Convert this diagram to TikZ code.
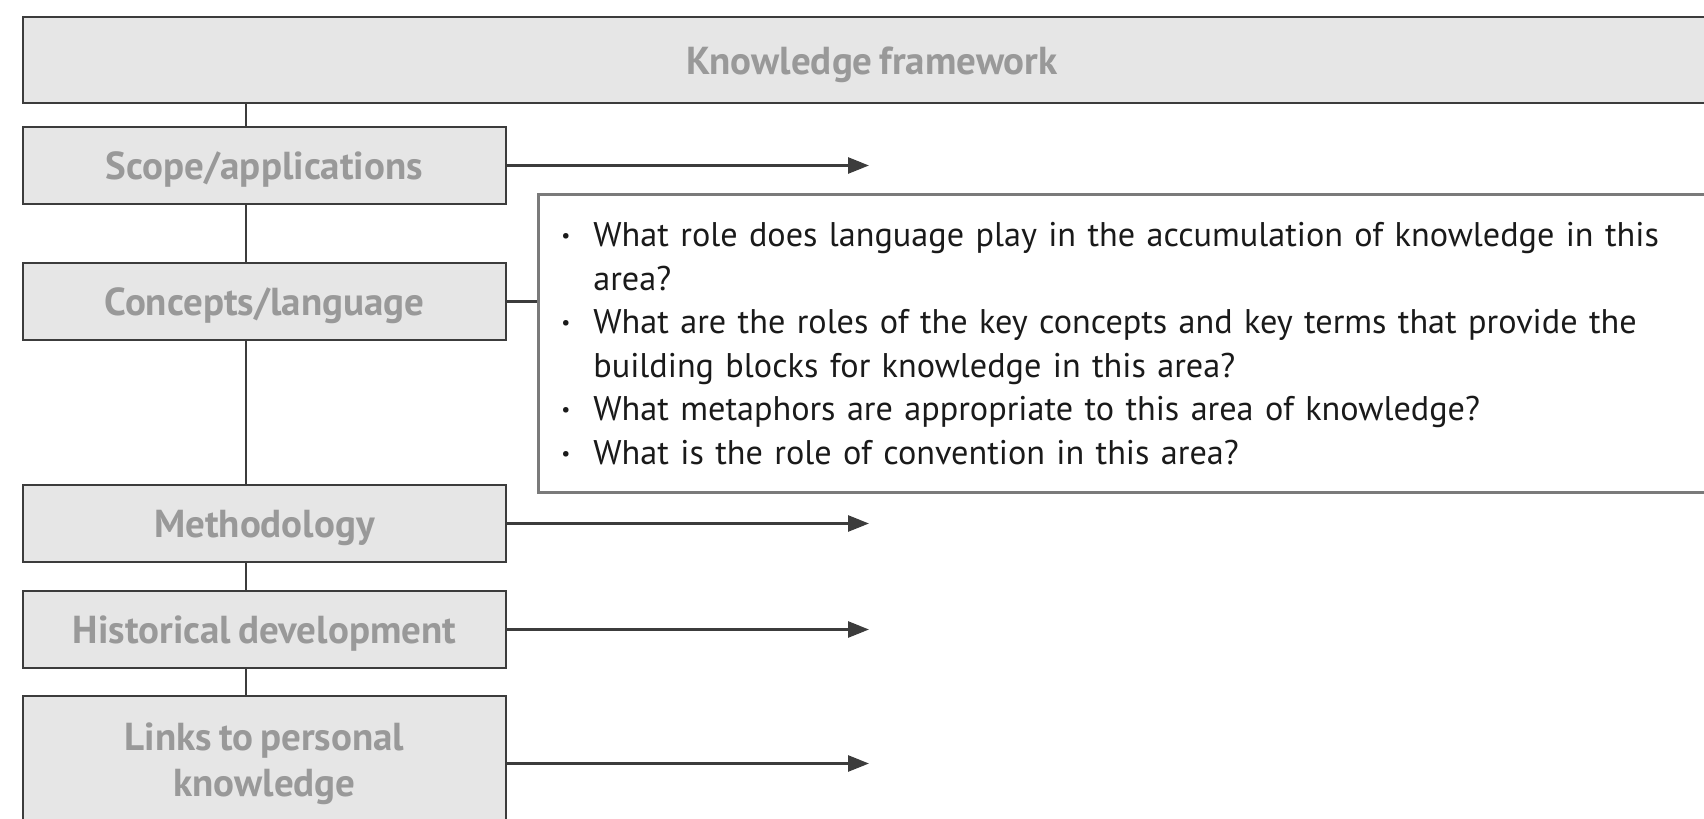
\documentclass[tikz,border=0pt]{standalone}
\usepackage{fontspec}
\setmainfont[WordSpace=0.7]{PT Sans}
\usetikzlibrary{arrows.meta}
\definecolor{boxfill}{HTML}{E6E6E6}
\definecolor{boxline}{HTML}{3C3C3C}
\definecolor{labelgrey}{HTML}{999999}
\definecolor{qline}{HTML}{7A7A7A}
\definecolor{qtext}{HTML}{1A1A1A}
% bullet and continuation indent for the question list
\newcommand{\qi}{\makebox[16pt][l]{\raisebox{2.0pt}{\fontsize{10}{10}\selectfont\textbullet}}}
\newcommand{\qc}{\hspace*{16pt}}
\begin{document}
\begin{tikzpicture}[x=0.5pt,y=-0.5pt,
  frame/.style={draw=boxline, line width=1pt, fill=boxfill, inner sep=0pt,
    anchor=north west, text=labelgrey, align=center,
    font=\fontsize{19.5}{23}\selectfont\bfseries},
  oneline/.style={text height=16pt, text depth=2pt},
  qbox/.style={draw=qline, line width=1.4pt, fill=white, anchor=north west,
    inner xsep=11.5pt, inner ysep=0pt, text width=568.5pt, minimum height=149pt,
    align=left, text=qtext, font=\fontsize{17.1}{21.75}\selectfont},
  link/.style={draw=boxline, line width=1.35pt},
  arrow/.style={link, -{Triangle[length=10.5pt,width=8pt]}}]
\useasboundingbox (0,0) rectangle (1704,819);

% column of framework boxes
\node[frame, oneline, minimum width=849pt, minimum height=43pt] (top) at (22,16) {Knowledge framework};
\node[frame, oneline, minimum width=241.5pt, minimum height=38.5pt] (scope) at (22,126) {Scope/applications};
\node[frame, oneline, minimum width=241.5pt, minimum height=38.5pt] (concepts) at (22,262) {Concepts/language};
\node[frame, oneline, minimum width=241.5pt, minimum height=38.5pt] (method) at (22,484) {Methodology};
\node[frame, oneline, minimum width=241.5pt, minimum height=38.5pt] (history) at (22,590) {Historical development};
\node[frame, minimum width=241.5pt, minimum height=67.5pt] (links) at (22,695) {Links to personal\\knowledge};

% question panel
\node[qbox, minimum width=591.5pt] (questions) at (537,193) {%
\qi What role does language play in the accumulation of knowledge in this\\
\qc area?\\
\qi What are the roles of the key concepts and key terms that provide the\\
\qc building blocks for knowledge in this area?\\
\qi What metaphors are appropriate to this area of knowledge?\\
\qi What is the role of convention in this area?};

% spine and arrow tip positions
\coordinate (spine) at (246,0);
\coordinate (tip) at (869,0);

% vertical spine between boxes
\draw[link] (top.south -| spine) -- (scope.north -| spine);
\draw[link] (scope.south -| spine) -- (concepts.north -| spine);
\draw[link] (concepts.south -| spine) -- (method.north -| spine);
\draw[link] (method.south -| spine) -- (history.north -| spine);
\draw[link] (history.south -| spine) -- (links.north -| spine);

% outgoing arrows and the link to the question panel
\draw[arrow] (scope.east) -- (scope.east -| tip);
\draw[link] (concepts.east) -- (questions.west |- concepts.east);
\draw[arrow] (method.east) -- (method.east -| tip);
\draw[arrow] (history.east) -- (history.east -| tip);
\draw[arrow] (links.east) -- (links.east -| tip);
\end{tikzpicture}
\end{document}
